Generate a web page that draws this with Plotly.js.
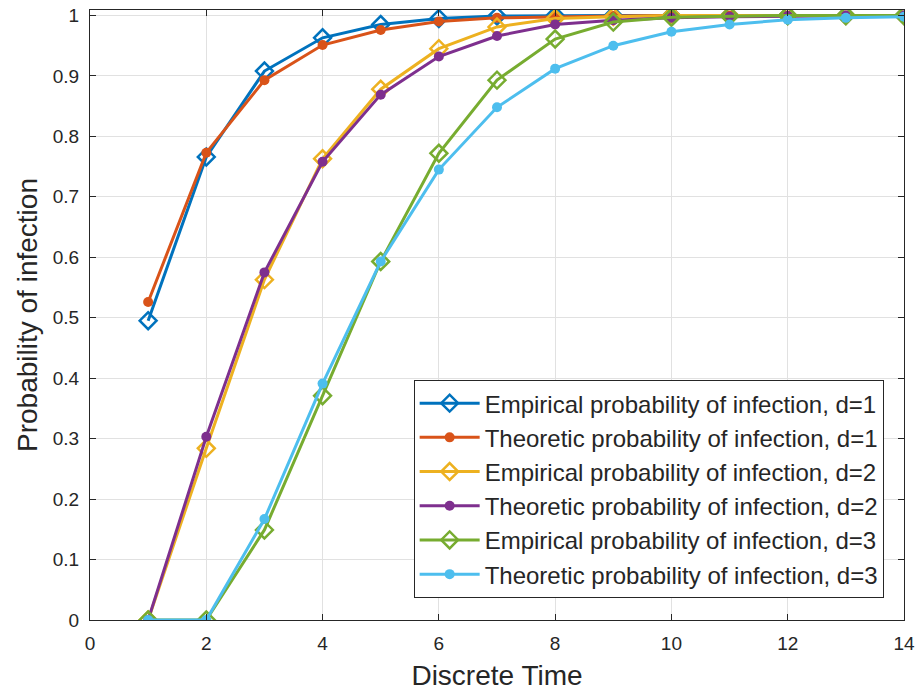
<!DOCTYPE html>
<html>
<head>
<meta charset="utf-8">
<script src="https://cdn.plot.ly/plotly-3.0.1.min.js"></script>
<style>html,body{margin:0;padding:0;background:#fff;}#chart{width:917px;height:691px;}</style>
</head>
<body>
<div id="chart"></div>
<script>
const timeSteps = [1,2,3,4,5,6,7,8,9,10,11,12,13,14];
const empD1 = [0.495,0.766,0.908,0.963,0.985,0.995,0.999,1.0,1.0,1.0,1.0,1.0,1.0,1.0];
const theoD1 = [0.526,0.773,0.893,0.951,0.976,0.990,0.996,0.998,0.999,1.0,1.0,1.0,1.0,1.0];
const empD2 = [0.0,0.284,0.563,0.763,0.878,0.945,0.981,0.995,0.998,1.0,1.0,1.0,1.0,1.0];
const theoD2 = [0.0,0.303,0.575,0.758,0.869,0.932,0.966,0.985,0.992,0.996,0.998,0.999,1.0,1.0];
const empD3 = [0.0,0.0,0.149,0.371,0.593,0.772,0.893,0.961,0.989,0.997,0.999,1.0,1.0,1.0];
const theoD3 = [0.0,0.0,0.167,0.391,0.593,0.745,0.848,0.912,0.950,0.973,0.985,0.993,0.996,0.998];
const seriesNames = [
  "Empirical probability of infection, d=1",
  "Theoretic probability of infection, d=1",
  "Empirical probability of infection, d=2",
  "Theoretic probability of infection, d=2",
  "Empirical probability of infection, d=3",
  "Theoretic probability of infection, d=3"
];
const seriesData = [empD1, theoD1, empD2, theoD2, empD3, theoD3];
const colors = ["#0072BD","#D95319","#EDB120","#7E2F8E","#77AC30","#4DBEEE"];
const yTicks = [0,0.1,0.2,0.3,0.4,0.5,0.6,0.7,0.8,0.9,1];
const yTickText = ["0","0.1","0.2","0.3","0.4","0.5","0.6","0.7","0.8","0.9","1"];

const traces = seriesData.map((ys, i) => {
  const empirical = i % 2 === 0;
  return {
    x: timeSteps, y: ys, name: seriesNames[i], type: "scatter", mode: "lines+markers",
    line: {color: colors[i], width: 3},
    marker: empirical
      ? {symbol: "diamond-open", size: 13, color: colors[i], line: {width: 2.5, color: colors[i]}}
      : {symbol: "circle", size: 10, color: colors[i]}
  };
});

const FONT = "Liberation Sans, Arial, sans-serif";
const axisCommon = {
  showline: true, linecolor: "#262626", linewidth: 1, mirror: "ticks",
  ticks: "inside", ticklen: 6, tickcolor: "#262626",
  showgrid: true, gridcolor: "#e1e1e1", gridwidth: 1, zeroline: false,
  tickfont: {family: FONT, size: 19, color: "#262626"}
};

const layout = {
  width: 917, height: 691,
  margin: {l: 90, r: 13, t: 10, b: 71},
  paper_bgcolor: "#fff", plot_bgcolor: "#fff",
  font: {family: FONT, color: "#262626"},
  xaxis: Object.assign({}, axisCommon, {
    range: [0, 14], dtick: 2, tick0: 0, ticklabelstandoff: 6,
    title: {text: "Discrete Time", font: {size: 28, color: "#262626"}, standoff: 14}
  }),
  yaxis: Object.assign({}, axisCommon, {
    range: [0, 1.009], tickvals: yTicks, ticktext: yTickText, ticklabelstandoff: 6,
    title: {text: "Probability of infection", font: {size: 28, color: "#262626"}, standoff: 6}
  }),
  showlegend: true,
  legend: {
    x: 0.975, y: 0.036, xanchor: "right", yanchor: "bottom",
    bgcolor: "#fff", bordercolor: "#262626", borderwidth: 1,
    font: {family: FONT, size: 24, color: "#262626"},
    itemwidth: 60
  }
};

Plotly.newPlot("chart", traces, layout, {displayModeBar: false, staticPlot: true});
</script>
</body>
</html>
